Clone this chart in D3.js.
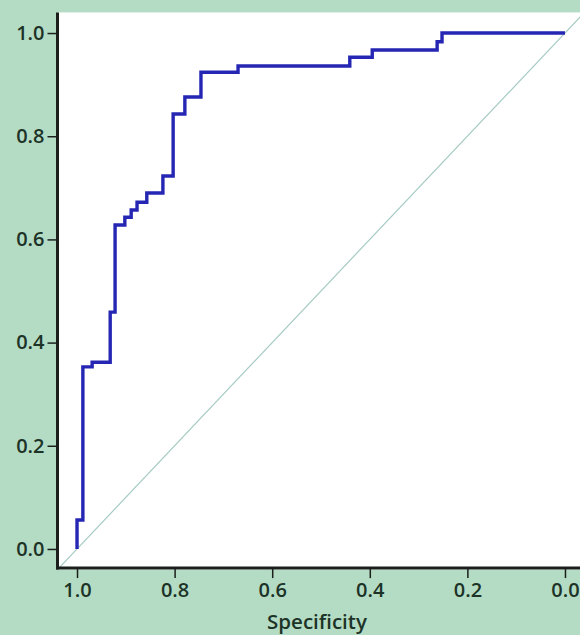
<!DOCTYPE html>
<html lang="en">
<head>
<meta charset="UTF-8">
<title>ROC curve</title>
<script src="https://d3js.org/d3.v7.min.js"></script>
<style>
html, body {
  margin: 0;
  padding: 0;
  background-color: #b4dcc5;
}
#chart svg {
  display: block;
}
.axis path, .axis line {
  stroke: #1a1f1c;
}
.axis-title {
  font-family: 'Open Sans', sans-serif;
  font-weight: 600;
  font-size: 20.5px;
  fill: #1d3327;
}
</style>
</head>
<body>
<div id="chart"></div>
<script>

// ROC points (specificity, sensitivity), top of each rise
var specificity = [1.000, 1.000, 0.988, 0.969, 0.932, 0.922, 0.902, 0.889, 0.877, 0.857,
                   0.824, 0.803, 0.779, 0.746, 0.670, 0.441, 0.395, 0.262, 0.252, 0.000];
var sensitivity = [0.000, 0.056, 0.353, 0.362, 0.459, 0.628, 0.643, 0.657, 0.672, 0.690,
                   0.723, 0.843, 0.876, 0.924, 0.936, 0.953, 0.967, 0.983, 1.000, 1.000];

var xTicks = [1.0, 0.8, 0.6, 0.4, 0.2, 0.0];
var yTicks = [0.0, 0.2, 0.4, 0.6, 0.8, 1.0];

var data = specificity.map((s, i) => ({spec: s, sens: sensitivity[i]}));

// --------------------------------------
//  Size and margin
// --------------------------------------
var totalWidth = 580;
var totalHeight = 635;
var plot = {left: 57.5, right: 584.5, top: 12.4, bottom: 569.6};

var svg = d3.select("#chart")
  .append("svg")
  .attr("width", totalWidth)
  .attr("height", totalHeight);

// --------------------------------------
// Scales (R style 4% padding)
// --------------------------------------
var xscale = d3.scaleLinear()
  .domain([1.04, -0.04])
  .range([plot.left, plot.right]);

var yscale = d3.scaleLinear()
  .domain([-0.04, 1.04])
  .range([plot.bottom, plot.top]);

// plot background
svg.append("rect")
  .attr("x", xscale(1.04))
  .attr("y", yscale(1.04))
  .attr("width", xscale(-0.04) - xscale(1.04))
  .attr("height", yscale(-0.04) - yscale(1.04))
  .style("fill", "white");

// chance diagonal
svg.append("clipPath").attr("id", "plotclip")
  .append("rect")
  .attr("x", xscale(1.04))
  .attr("y", yscale(1.04))
  .attr("width", xscale(-0.04) - xscale(1.04))
  .attr("height", yscale(-0.04) - yscale(1.04));

svg.append("line")
  .attr("clip-path", "url(#plotclip)")
  .attr("x1", xscale(1.04)).attr("y1", yscale(-0.04))
  .attr("x2", xscale(-0.04)).attr("y2", yscale(1.04))
  .style("stroke", "#a6cbc4")
  .style("stroke-width", 1.2);

// --------------------------------------
// ROC line
// --------------------------------------
var line = d3.line()
  .curve(d3.curveStepAfter)
  .x(d => xscale(d.spec))
  .y(d => yscale(d.sens));

svg.append("path")
  .datum(data)
  .attr("d", line)
  .style("fill", "none")
  .style("stroke", "#2626b4")
  .style("stroke-width", 3.4)
  .style("stroke-linejoin", "miter");

// --------------------------------------
// Axes
// --------------------------------------
var yAxis = svg.append("g")
  .attr("class", "axis")
  .attr("transform", `translate(${plot.left},0)`)
  .call(d3.axisLeft(yscale)
    .tickValues(yTicks)
    .tickFormat(d3.format(".1f"))
    .tickSize(10)
    .tickSizeOuter(0)
    .tickPadding(3));

var xAxis = svg.append("g")
  .attr("class", "axis")
  .attr("transform", `translate(0,${plot.bottom - 1.5})`)
  .call(d3.axisBottom(xscale)
    .tickValues(xTicks)
    .tickFormat(d3.format(".1f"))
    .tickSize(10)
    .tickSizeOuter(0)
    .tickPadding(5));

svg.selectAll(".axis text")
  .style("font-family", "'Open Sans', sans-serif")
  .style("font-weight", 600)
  .style("font-size", "20px")
  .style("fill", "#1d3327");

svg.selectAll(".axis line").style("stroke-width", 1.5);
svg.selectAll(".axis path").style("stroke-width", 3);

// redraw axis lines as thick L
yAxis.select("path").attr("d", `M0,${plot.top}V${plot.bottom}`);
xAxis.select("path").attr("d", `M${plot.left - 1.5},0H${totalWidth}`);

svg.append("text")
  .attr("class", "axis-title")
  .attr("x", (plot.left + plot.right) / 2 - 4)
  .attr("y", 629)
  .attr("text-anchor", "middle")
  .text("Specificity");

</script>
</body>
</html>
